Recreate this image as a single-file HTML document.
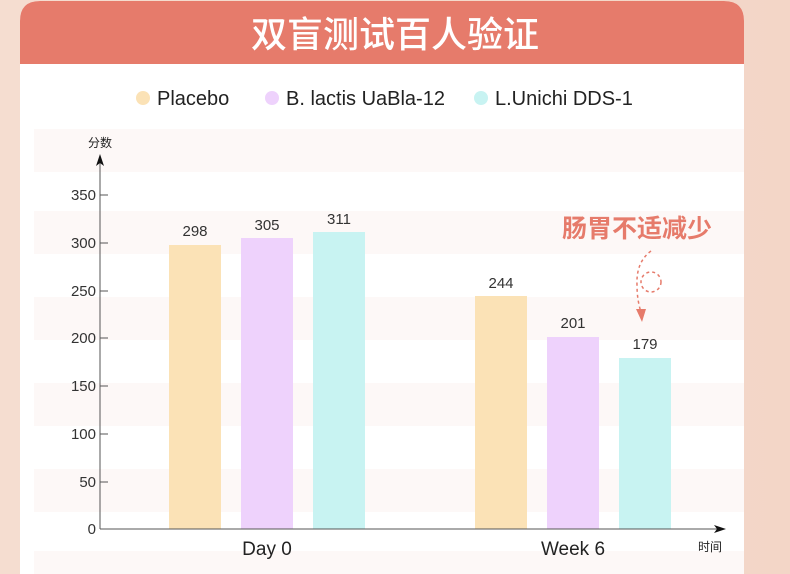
<!DOCTYPE html><html><head><meta charset="utf-8"><style>
body{margin:0;width:790px;height:574px;background:#f3d8ca;overflow:hidden;font-family:"Liberation Sans","Noto Sans CJK SC",sans-serif}
</style></head><body>
<svg width="790" height="574" xmlns="http://www.w3.org/2000/svg" style="position:absolute;left:0;top:0">
<defs><linearGradient id="g" x1="0" x2="1"><stop offset="0" stop-color="#f5ddd0"/><stop offset="1" stop-color="#f3d6c7"/></linearGradient></defs>
<rect width="790" height="574" fill="url(#g)"/>
<path d="M20 600 V21 Q20 1 40 1 H724 Q744 1 744 21 V600 Z" fill="#fff"/>
<path d="M20 64 V21 Q20 1 40 1 H724 Q744 1 744 21 V64 Z" fill="#e67b6b"/>
<text x="395" y="47" text-anchor="middle" font-size="36" font-weight="500" fill="#fff" font-family="Noto Sans CJK SC,sans-serif">双盲测试百人验证</text>
<g font-size="20" fill="#222">
<circle cx="143" cy="98" r="7" fill="#fbe2b6"/><text x="157" y="105">Placebo</text>
<circle cx="272" cy="98" r="7" fill="#eed2fc"/><text x="286" y="105">B. lactis UaBla-12</text>
<circle cx="481" cy="98" r="7" fill="#c8f3f2"/><text x="495" y="105">L.Unichi DDS-1</text>
</g>
<g fill="#fdf8f7">
<rect x="34" y="129" width="710" height="43"/><rect x="34" y="211" width="710" height="43"/><rect x="34" y="297" width="710" height="43"/><rect x="34" y="383" width="710" height="43"/><rect x="34" y="469" width="710" height="43"/><rect x="34" y="551" width="710" height="43"/>
</g>
<g fill="#fbe2b6"><rect x="169" y="245" width="52" height="284"/><rect x="475" y="296" width="52" height="233"/></g>
<g fill="#eed2fc"><rect x="241" y="238" width="52" height="291"/><rect x="547" y="337" width="52" height="192"/></g>
<g fill="#c8f3f2"><rect x="313" y="232" width="52" height="297"/><rect x="619" y="358" width="52" height="171"/></g>
<g font-size="15" fill="#333" text-anchor="middle">
<text x="195" y="236">298</text><text x="267" y="230">305</text><text x="339" y="224">311</text>
<text x="501" y="288">244</text><text x="573" y="328">201</text><text x="645" y="349">179</text>
</g>
<g stroke="#555" stroke-width="1"><line x1="100" y1="160" x2="100" y2="529"/><line x1="100" y1="529" x2="718" y2="529"/>
<line x1="100" y1="195" x2="108" y2="195"/><line x1="100" y1="243" x2="108" y2="243"/><line x1="100" y1="291" x2="108" y2="291"/><line x1="100" y1="338" x2="108" y2="338"/><line x1="100" y1="386" x2="108" y2="386"/><line x1="100" y1="434" x2="108" y2="434"/><line x1="100" y1="482" x2="108" y2="482"/></g>
<path d="M100 154 L96 166 L100 163 L104 166Z" fill="#111"/>
<path d="M726 529 L714 525 L717 529 L714 533Z" fill="#111"/>
<g font-size="15" fill="#333" text-anchor="end">
<text x="96" y="200">350</text><text x="96" y="248">300</text><text x="96" y="296">250</text><text x="96" y="343">200</text><text x="96" y="391">150</text><text x="96" y="439">100</text><text x="96" y="487">50</text><text x="96" y="534">0</text>
</g>
<text x="100" y="147" font-size="12" fill="#222" text-anchor="middle">分数</text>
<text x="710" y="551" font-size="12" fill="#222" text-anchor="middle">时间</text>
<text x="267" y="555" font-size="19" fill="#222" text-anchor="middle">Day 0</text>
<text x="573" y="555" font-size="19" fill="#222" text-anchor="middle">Week 6</text>
<text x="637" y="237" font-size="25" font-weight="bold" fill="#e67b6b" text-anchor="middle" font-family="Noto Sans CJK SC,sans-serif">肠胃不适减少</text>
<g fill="none" stroke="#e67b6b" stroke-width="1.5" stroke-dasharray="3,3"><path d="M651 251 Q636 262 637 285 Q637 300 641 312"/><circle cx="651" cy="282" r="10"/></g>
<path d="M636 309 L646 309 L642 322Z" fill="#e67b6b"/>
</svg></body></html>
